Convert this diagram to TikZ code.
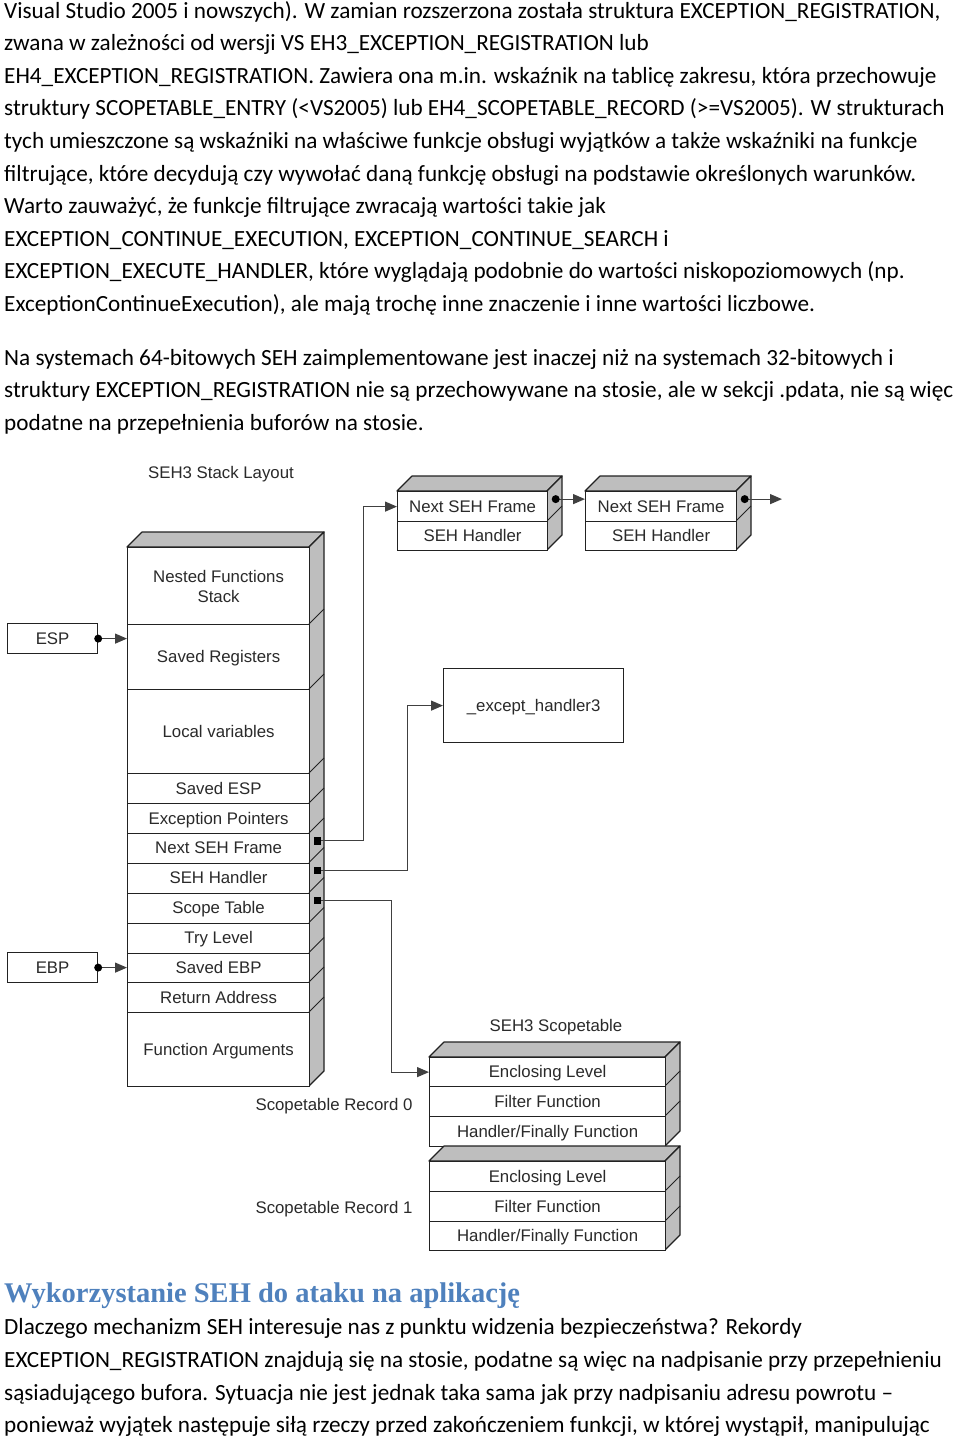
\documentclass[tikz,border=0pt]{standalone}
\usepackage{fontspec}
\setmainfont{Carlito}
\newfontfamily\diafont{Liberation Sans}
\newfontfamily\headfont{Liberation Serif}
\usetikzlibrary{arrows.meta,calc}
\definecolor{headblue}{HTML}{4F81BD}
\definecolor{diatext}{HTML}{2A2A2A}
\definecolor{lc}{HTML}{222222}
\definecolor{sidegray}{HTML}{BEBEBE}
\begin{document}
\begin{tikzpicture}[x=1pt,y=-1pt,
  body/.style={anchor=base west, inner sep=0pt, font=\fontsize{23.2}{28}\selectfont},
  dtext/.style={font=\diafont\fontsize{16.8}{20}\selectfont, text=diatext},
  cellbase/.style={dtext, draw=lc, line width=1.2pt, fill=white, inner sep=0pt, anchor=north west, align=center},
  cell/.style={cellbase, text height=12.5pt, text depth=1.5pt},
  side/.style={fill=sidegray, draw=lc, line width=1.2pt, line join=round},
  diag/.style={draw=lc, line width=0.9pt},
  conn/.style={draw=black!75, line width=1.2pt, -{Triangle[length=12pt,width=10pt]}},
  rdot/.style={circle, fill=black, inner sep=0pt, minimum size=8pt},
  sdot/.style={rectangle, fill=black, inner sep=0pt, minimum size=7.5pt},
  lbl/.style={dtext, inner sep=0pt, anchor=base}
]
\useasboundingbox (0,0) rectangle (960,1441);
\fill[white] (0,0) rectangle (960,1441);

% ---------- top text ----------
\node[body] (t1) at (4,18) {Visual Studio 2005 i nowszych). W zamian rozszerzona została struktura EXCEPTION\_REGISTRATION,};
\node[body] (t2) at (4,50.6) {zwana w zależności od wersji VS EH3\_EXCEPTION\_REGISTRATION lub};
\node[body] (t3) at (4,83.2) {EH4\_EXCEPTION\_REGISTRATION. Zawiera ona m.in. wskaźnik na tablicę zakresu, która przechowuje};
\node[body] (t4) at (4,115.8) {struktury SCOPETABLE\_ENTRY (<VS2005) lub EH4\_SCOPETABLE\_RECORD (>=VS2005). W strukturach};
\node[body] (t5) at (4,148.4) {tych umieszczone są wskaźniki na właściwe funkcje obsługi wyjątków a także wskaźniki na funkcje};
\node[body] (t6) at (4,181) {filtrujące, które decydują czy wywołać daną funkcję obsługi na podstawie określonych warunków.};
\node[body] (t7) at (4,213.6) {Warto zauważyć, że funkcje filtrujące zwracają wartości takie jak};
\node[body] (t8) at (4,246.2) {EXCEPTION\_CONTINUE\_EXECUTION, EXCEPTION\_CONTINUE\_SEARCH i};
\node[body] (t9) at (4,278.8) {EXCEPTION\_EXECUTE\_HANDLER, które wyglądają podobnie do wartości niskopoziomowych (np.};
\node[body] (t10) at (4,311.4) {ExceptionContinueExecution), ale mają trochę inne znaczenie i inne wartości liczbowe.};
\node[body] (t11) at (4,365) {Na systemach 64-bitowych SEH zaimplementowane jest inaczej niż na systemach 32-bitowych i};
\node[body] (t12) at (4,397.6) {struktury EXCEPTION\_REGISTRATION nie są przechowywane na stosie, ale w sekcji .pdata, nie są więc};
\node[body] (t13) at (4,430.2) {podatne na przepełnienia buforów na stosie.};

% ---------- bottom text ----------
\node[anchor=base west, inner sep=0pt, text=headblue, font=\headfont\bfseries\fontsize{28.5}{34}\selectfont] (head) at (4,1302) {Wykorzystanie SEH do ataku na aplikację};
\node[body] (b1) at (4,1334.8) {Dlaczego mechanizm SEH interesuje nas z punktu widzenia bezpieczeństwa? Rekordy};
\node[body] (b2) at (4,1367.4) {EXCEPTION\_REGISTRATION znajdują się na stosie, podatne są więc na nadpisanie przy przepełnieniu};
\node[body] (b3) at (4,1400) {sąsiadującego bufora. Sytuacja nie jest jednak taka sama jak przy nadpisaniu adresu powrotu –};
\node[body] (b4) at (4,1432.6) {ponieważ wyjątek następuje siłą rzeczy przed zakończeniem funkcji, w której wystąpił, manipulując};

% ---------- labels ----------
\node[lbl] (title1) at (221,478.5) {SEH3 Stack Layout};
\node[lbl] (title2) at (556,1031) {SEH3 Scopetable};
\node[lbl] (rec0) at (334,1110) {Scopetable Record 0};
\node[lbl] (rec1) at (334,1213) {Scopetable Record 1};

% ---------- main stack ----------
\draw[side] (127,547) -- (142,532) -- (324,532) -- (309,547) -- cycle;
\draw[side] (309,547) -- (324,532) -- (324,1071) -- (309,1086) -- cycle;
\node[cellbase, minimum width=182pt, minimum height=77pt] (r1) at (127,547) {Nested Functions\\Stack};
\node[cell, minimum width=182pt, minimum height=65pt] (r2) at (127,624) {Saved Registers};
\node[cell, minimum width=182pt, minimum height=84pt] (r3) at (127,689) {Local variables};
\node[cell, minimum width=182pt, minimum height=30pt] (r4) at (127,773) {Saved ESP};
\node[cell, minimum width=182pt, minimum height=30pt] (r5) at (127,803) {Exception Pointers};
\node[cell, minimum width=182pt, minimum height=29.5pt] (r6) at (127,833) {Next SEH Frame};
\node[cell, minimum width=182pt, minimum height=30pt] (r7) at (127,862.5) {SEH Handler};
\node[cell, minimum width=182pt, minimum height=30pt] (r8) at (127,892.5) {Scope Table};
\node[cell, minimum width=182pt, minimum height=30pt] (r9) at (127,922.5) {Try Level};
\node[cell, minimum width=182pt, minimum height=29.5pt] (r10) at (127,952.5) {Saved EBP};
\node[cell, minimum width=182pt, minimum height=30pt] (r11) at (127,982) {Return Address};
\node[cell, minimum width=182pt, minimum height=74pt] (r12) at (127,1012) {Function Arguments};
\foreach \yy in {624,689,773,803,833,862.5,892.5,922.5,952.5,982,1012}
  \draw[diag] (309,\yy) -- (324,\yy-15);

% ---------- ESP / EBP ----------
\node[cell, minimum width=90pt, minimum height=30pt] (esp) at (7,623) {ESP};
\node[cell, minimum width=90pt, minimum height=30pt] (ebp) at (7,952) {EBP};
\draw[conn] (esp.east) -- (esp.east -| r2.west);
\draw[conn] (ebp.east) -- (ebp.east -| r10.west);
\node[rdot] (espdot) at (esp.east) {};
\node[rdot] (ebpdot) at (ebp.east) {};

% ---------- SEH frame chain ----------
\draw[side] (397,491) -- (412,476) -- (562,476) -- (547,491) -- cycle;
\draw[side] (547,491) -- (562,476) -- (562,535) -- (547,550) -- cycle;
\draw[diag] (547,521) -- (562,506);
\node[cell, minimum width=150pt, minimum height=30pt] (f1a) at (397,491) {Next SEH Frame};
\node[cell, minimum width=150pt, minimum height=29pt] (f1b) at (397,521) {SEH Handler};
\draw[side] (585,491) -- (600,476) -- (751,476) -- (736,491) -- cycle;
\draw[side] (736,491) -- (751,476) -- (751,535) -- (736,550) -- cycle;
\draw[diag] (736,521) -- (751,506);
\node[cell, minimum width=151pt, minimum height=30pt] (f2a) at (585,491) {Next SEH Frame};
\node[cell, minimum width=151pt, minimum height=29pt] (f2b) at (585,521) {SEH Handler};
\coordinate (c1) at ($(f1a.east)+(7.5,-7.5)$);
\coordinate (c2) at ($(f2a.east)+(7.5,-7.5)$);
\coordinate (chainend) at (782,498);
\draw[conn] (c1) -- (c1 -| f2a.west);
\draw[conn] (c2) -- (c2 -| chainend);
\node[rdot] (c1dot) at (c1) {};
\node[rdot] (c2dot) at (c2) {};

% ---------- except handler ----------
\node[cell, minimum width=180pt, minimum height=74pt] (exh) at (443,668) {\_except\_handler3};

% ---------- scopetable ----------
\draw[side] (429,1057) -- (444,1042) -- (680,1042) -- (665,1057) -- cycle;
\draw[side] (665,1057) -- (680,1042) -- (680,1131) -- (665,1146) -- cycle;
\draw[diag] (665,1086) -- (680,1071);
\draw[diag] (665,1116) -- (680,1101);
\node[cell, minimum width=236pt, minimum height=29pt] (s0a) at (429,1057) {Enclosing Level};
\node[cell, minimum width=236pt, minimum height=30pt] (s0b) at (429,1086) {Filter Function};
\node[cell, minimum width=236pt, minimum height=30pt] (s0c) at (429,1116) {Handler/Finally Function};
\draw[side] (429,1161) -- (444,1146) -- (680,1146) -- (665,1161) -- cycle;
\draw[side] (665,1161) -- (680,1146) -- (680,1235) -- (665,1250) -- cycle;
\draw[diag] (665,1191) -- (680,1176);
\draw[diag] (665,1221) -- (680,1206);
\node[cell, minimum width=236pt, minimum height=30pt] (s1a) at (429,1161) {Enclosing Level};
\node[cell, minimum width=236pt, minimum height=30pt] (s1b) at (429,1191) {Filter Function};
\node[cell, minimum width=236pt, minimum height=29pt] (s1c) at (429,1221) {Handler/Finally Function};

% ---------- stack connectors ----------
\coordinate (d6) at ($(r6.east)+(7.5,-7.5)$);
\coordinate (d7) at ($(r7.east)+(7.5,-7.5)$);
\coordinate (d8) at ($(r8.east)+(7.5,-7.5)$);
\draw[conn] (d6) -- ++(45.5,0) |- (f1a.west);
\draw[conn] (d7) -- ++(90,0) |- (exh.west);
\draw[conn] (d8) -- ++(73.5,0) |- (s0a.west);
\node[sdot] (d6dot) at (d6) {};
\node[sdot] (d7dot) at (d7) {};
\node[sdot] (d8dot) at (d8) {};
\end{tikzpicture}
\end{document}
